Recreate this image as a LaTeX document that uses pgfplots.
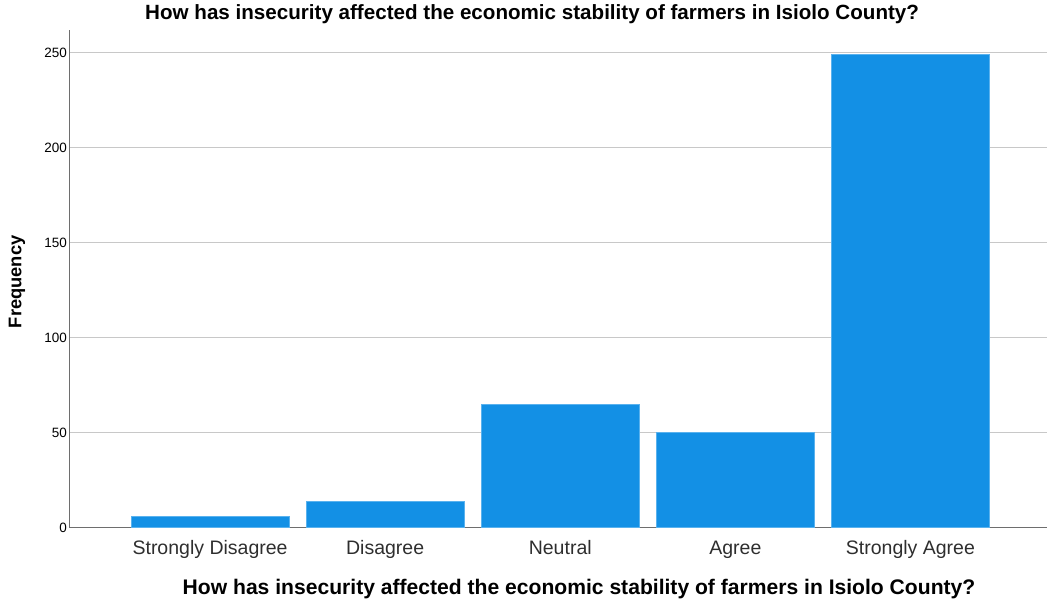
\documentclass[border=0pt]{standalone}
\usepackage{fontspec}
\setmainfont{Liberation Sans}
\usepackage{pgfplots}
\pgfplotsset{compat=1.18}
\definecolor{barblue}{HTML}{1390E5}
\definecolor{baredge}{HTML}{5AB2EE}
\definecolor{gridgray}{HTML}{C8C8C8}
\definecolor{axisgray}{HTML}{6E6E6E}
\begin{document}
\begin{tikzpicture}
\path[use as bounding box] (-70pt,-72.3pt) rectangle (979pt,527.7pt);
\begin{axis}[
  scale only axis, width=977pt, height=497.7pt,
  xmin=-0.8, xmax=4.78, ymin=0, ymax=262,
  axis x line=bottom, axis y line=left,
  axis line style={-, draw=axisgray, line width=1pt},
  ymajorgrids, grid style={draw=gridgray, line width=1.2pt},
  major tick length=0pt,
  ytick={0,50,100,150,200,250},
  xtick={0,1,2,3,4},
  xticklabels={Strongly Disagree, Disagree, Neutral, Agree, Strongly Agree},
  /pgf/number format/assume math mode=true,
  yticklabel style={font=\fontsize{13.5}{15}\selectfont, text=black, inner sep=1pt, xshift=-2pt},
  xticklabel style={font=\fontsize{19.5}{22}\selectfont, text=black!82, anchor=base, yshift=-26.8pt},
  title={How has insecurity affected the economic stability of farmers in Isiolo County?},
  title style={font=\bfseries\fontsize{20.6}{23}\selectfont, at={(axis description cs:0.473,1)}, anchor=base, yshift=4.5pt},
  xlabel={How has insecurity affected the economic stability of farmers in Isiolo County?},
  xlabel style={font=\bfseries\fontsize{21.1}{24}\selectfont, at={(axis description cs:0.521,0)}, anchor=base, yshift=-66.5pt},
  ylabel={Frequency},
  ylabel style={font=\bfseries\fontsize{18.3}{21}\selectfont, at={(axis description cs:0,0.494)}, anchor=base, yshift=48.5pt},
]
\addplot[ybar, bar width=0.9, fill=barblue, draw=baredge, line width=0.6pt] coordinates {
  (0,6) (1,14) (2,65) (3,50) (4,249)
};
\end{axis}
\end{tikzpicture}
\end{document}
